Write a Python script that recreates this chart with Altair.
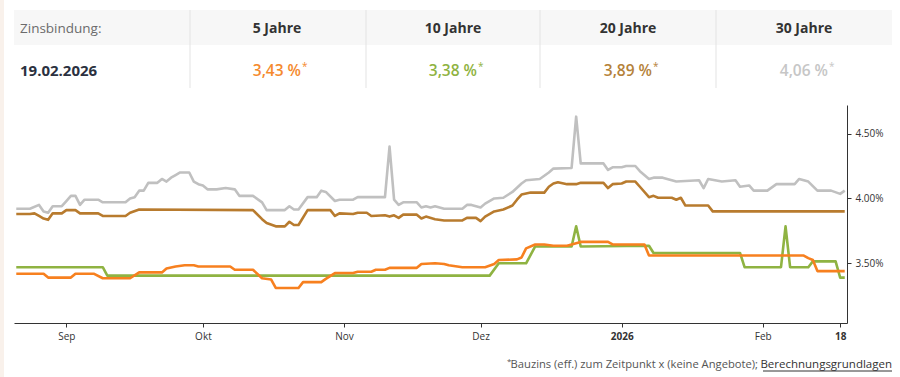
import altair as alt
import pandas as pd

# ---------------- data ----------------
START = pd.Timestamp("2025-08-21")

SERIES = ["5 Jahre", "10 Jahre", "20 Jahre", "30 Jahre"]
CURRENT = [3.43, 3.38, 3.89, 4.06]
AS_OF = "19.02.2026"
HEADER_LABEL = "Zinsbindung:"
FOOTNOTE = "Bauzins (eff.) zum Zeitpunkt x (keine Angebote);"
FOOTNOTE_MARK = "*"
FOOTNOTE_LINK = "Berechnungsgrundlagen"
Y_TICKS = [3.5, 4.0, 4.5]
MONTHS_DE = ["Jan", "Feb", "Mär", "Apr", "Mai", "Jun", "Jul", "Aug", "Sep", "Okt", "Nov", "Dez"]

# (day offset from START, rate in %)
rate_5 = [(0, 3.42), (6, 3.42), (7, 3.39), (12, 3.39), (13, 3.42), (17, 3.42), (19, 3.385),
          (25, 3.385), (27, 3.43), (32, 3.43), (33, 3.46), (35, 3.475), (37, 3.485), (39, 3.485),
          (40, 3.475), (47, 3.475), (48, 3.45), (52, 3.45), (54, 3.385), (56, 3.375), (57, 3.31),
          (62, 3.31), (63, 3.355), (67, 3.355), (68, 3.38), (70, 3.425), (74, 3.425), (75, 3.435),
          (78, 3.435), (79, 3.45), (81, 3.45), (82, 3.465), (88, 3.465), (89, 3.495), (92, 3.50),
          (94, 3.495), (95, 3.485), (98, 3.47), (103, 3.47), (105, 3.495), (106, 3.525), (110, 3.53),
          (111, 3.545), (112, 3.615), (114, 3.645), (116, 3.645), (118, 3.635), (121, 3.635),
          (122, 3.645), (124, 3.665), (130, 3.665), (131, 3.645), (138, 3.645), (139, 3.56),
          (173, 3.56), (174, 3.54), (175, 3.525), (176, 3.44), (182, 3.44)]

rate_10 = [(0, 3.47), (19, 3.47), (20, 3.405), (104, 3.405), (106, 3.50), (112, 3.50), (114, 3.63),
           (122, 3.63), (123, 3.785), (124, 3.63), (139, 3.635), (140, 3.58), (159, 3.58), (160, 3.47),
           (168, 3.47), (169, 3.785), (170, 3.47), (174, 3.47), (175, 3.515), (180, 3.515),
           (181, 3.39), (182, 3.39)]

rate_20 = [(0, 3.88), (3, 3.88), (4, 3.885), (5, 3.865), (6, 3.845), (7, 3.835), (8, 3.885), (10, 3.885),
           (11, 3.91), (13, 3.91), (14, 3.885), (18, 3.885), (19, 3.865), (24, 3.865), (25, 3.89),
           (27, 3.915), (52, 3.91), (54, 3.84), (55, 3.81), (57, 3.785), (59, 3.785), (60, 3.82),
           (61, 3.795), (62, 3.795), (64, 3.91), (69, 3.91), (70, 3.865), (71, 3.885), (74, 3.88),
           (75, 3.89), (77, 3.89), (78, 3.865), (81, 3.87), (82, 3.86), (83, 3.87), (84, 3.85),
           (85, 3.875), (88, 3.875), (89, 3.845), (90, 3.86), (92, 3.84), (94, 3.83), (98, 3.83),
           (99, 3.85), (101, 3.85), (102, 3.825), (103, 3.86), (105, 3.90), (107, 3.915), (109, 3.945),
           (110, 3.99), (111, 4.03), (113, 4.045), (116, 4.045), (117, 4.09), (118, 4.115), (119, 4.125),
           (121, 4.11), (123, 4.11), (124, 4.12), (129, 4.12), (130, 4.08), (131, 4.11), (133, 4.115),
           (134, 4.13), (136, 4.13), (137, 4.09), (139, 4.01), (140, 4.02), (141, 4.005), (144, 4.005),
           (145, 3.99), (146, 4.005), (147, 3.945), (152, 3.945), (153, 3.90), (182, 3.90)]

rate_30 = [(0, 3.92), (3, 3.92), (5, 3.95), (6, 3.90), (7, 3.89), (8, 3.94), (10, 3.94), (11, 3.98),
           (12, 4.02), (13, 4.02), (14, 3.95), (15, 3.99), (18, 3.99), (19, 3.97), (24, 3.97), (25, 4.00),
           (26, 4.01), (27, 4.06), (28, 4.06), (29, 4.12), (31, 4.12), (32, 4.15), (33, 4.13), (34, 4.16),
           (35, 4.18), (36, 4.20), (38, 4.20), (39, 4.13), (40, 4.11), (41, 4.10), (42, 4.07), (44, 4.07),
           (46, 4.08), (48, 4.07), (49, 4.02), (52, 4.02), (54, 3.97), (55, 3.91), (59, 3.91), (60, 3.94),
           (61, 3.915), (62, 3.915), (64, 4.01), (66, 4.01), (67, 4.06), (68, 4.05), (70, 3.98), (71, 3.99),
           (74, 3.99), (75, 4.01), (81, 4.01), (82, 4.40), (83, 3.99), (84, 3.95), (85, 3.97), (88, 3.97),
           (89, 3.93), (90, 3.94), (91, 3.93), (92, 3.94), (94, 3.92), (98, 3.92), (99, 3.95), (100, 3.95),
           (102, 3.93), (103, 3.96), (105, 4.00), (107, 4.005), (109, 4.05), (111, 4.115), (112, 4.14),
           (115, 4.15), (117, 4.20), (118, 4.23), (122, 4.235), (123, 4.63), (124, 4.27), (129, 4.27),
           (130, 4.22), (131, 4.24), (133, 4.24), (134, 4.25), (136, 4.25), (137, 4.21), (139, 4.15),
           (140, 4.16), (142, 4.16), (145, 4.13), (150, 4.14), (151, 4.08), (152, 4.15), (155, 4.13),
           (158, 4.14), (159, 4.09), (161, 4.10), (162, 4.06), (165, 4.06), (167, 4.11), (171, 4.11),
           (172, 4.15), (174, 4.13), (176, 4.06), (179, 4.06), (181, 4.035), (182, 4.06)]

RATES = [rate_5, rate_10, rate_20, rate_30]

# ---------------- styles / layout ----------------
LINE_COLORS = ["#f7801f", "#8fb342", "#b87b2e", "#c0c0c0"]
VALUE_COLORS = ["#f58a2e", "#8fb342", "#b5823a", "#c6c6c6"]
FONT = "Open Sans"
OX, OY = 14, 105          # plot origin in page pixels
PLOT_W, PLOT_H = 833, 218
COL_CENTERS = [277, 453, 628, 804]
COL_SEPARATORS = [190, 366, 540, 716]


def frame(pairs):
    return pd.DataFrame({
        "date": [START + pd.Timedelta(days=d) for d, _ in pairs],
        "value": [v for _, v in pairs],
    })


x_scale = alt.Scale(domain=[alt.DateTime(year=2025, month=8, date=20, hours=12),
                            alt.DateTime(year=2026, month=2, date=19, hours=12)])
y_scale = alt.Scale(domain=[3.04, 4.72], nice=False, zero=False)

month_arr = "[" + ",".join("'%s'" % m for m in MONTHS_DE) + "]"
x_label_expr = ("date(datum.value) == 18 ? '18' : (month(datum.value) == 0 ? timeFormat(datum.value, '%Y') : "
                + month_arr + "[month(datum.value)])")
bold_test = "month(datum.value) == 0 || date(datum.value) == 18"

x_axis = alt.Axis(
    title=None, grid=False,
    values=[alt.DateTime(year=2025, month=9, date=1), alt.DateTime(year=2025, month=10, date=1),
            alt.DateTime(year=2025, month=11, date=1), alt.DateTime(year=2025, month=12, date=1),
            alt.DateTime(year=2026, month=1, date=1), alt.DateTime(year=2026, month=2, date=1),
            alt.DateTime(year=2026, month=2, date=18)],
    labelExpr=x_label_expr,
    labelFontWeight={"condition": {"test": bold_test, "value": "bold"}, "value": "normal"},
    labelFont=FONT, labelFontSize=10, labelColor="#333333", labelPadding=4,
    domainColor="#333333", tickColor="#333333", tickSize=4, labelAngle=0,
)
y_axis = alt.Axis(
    title=None, grid=False, orient="right", values=Y_TICKS,
    labelExpr="format(datum.value, '.2f') + '%'",
    labelFont=FONT, labelFontSize=10, labelColor="#333333", labelPadding=4,
    domainColor="#333333", tickColor="#333333", tickSize=4,
)

layers = []

# page decoration
layers.append(alt.Chart(pd.DataFrame({"a": [0]})).mark_rect(color="#f9f1eb").encode(
    x=alt.value(-OX), x2=alt.value(4 - OX), y=alt.value(-OY), y2=alt.value(377 - OY)))
# header background
layers.append(alt.Chart(pd.DataFrame({"a": [0]})).mark_rect(color="#f7f7f7").encode(
    x=alt.value(14 - OX), x2=alt.value(892 - OX), y=alt.value(10 - OY), y2=alt.value(45 - OY)))
for sx in COL_SEPARATORS:
    layers.append(alt.Chart(pd.DataFrame({"a": [0]})).mark_rule(color="#e3e3e3", strokeWidth=1).encode(
        x=alt.value(sx - OX), y=alt.value(10 - OY), y2=alt.value(88 - OY)))

# lines (gray, brown, green, orange drawing order)
for idx in [3, 2, 1, 0]:
    layers.append(alt.Chart(frame(RATES[idx])).mark_line(
        color=LINE_COLORS[idx], strokeWidth=2.6, strokeJoin="round", strokeCap="butt"
    ).encode(
        x=alt.X("date:T", scale=x_scale, axis=x_axis),
        y=alt.Y("value:Q", scale=y_scale, axis=y_axis),
    ))


def text_layer(txt, x, y, size, color, weight="normal", align="center"):
    return alt.Chart(pd.DataFrame({"t": [txt]})).mark_text(
        align=align, baseline="middle", font=FONT, fontSize=size, fontWeight=weight, color=color
    ).encode(x=alt.value(x - OX), y=alt.value(y - OY), text="t:N")


layers.append(text_layer(HEADER_LABEL, 20, 29, 13.5, "#6b6b6b", align="left"))
layers.append(text_layer(AS_OF, 20, 71, 15, "#2b3140", weight="bold", align="left"))
for name, val, col, cx in zip(SERIES, CURRENT, VALUE_COLORS, COL_CENTERS):
    layers.append(text_layer(name, cx, 29, 14, "#333333", weight="bold"))
    layers.append(text_layer(("%.2f" % val).replace(".", ",") + " %", cx + 24, 71, 15.5, col,
                             weight=600, align="right"))
    layers.append(text_layer("*", cx + 25, 67, 10, col, align="left"))

# footnote
layers.append(text_layer(FOOTNOTE_LINK, 892, 365, 11.5, "#333333", align="right"))
layers.append(text_layer(FOOTNOTE, 758, 365, 11.2, "#555555", align="right"))
layers.append(text_layer(FOOTNOTE_MARK, 507, 362, 8, "#555555", align="left"))
layers.append(alt.Chart(pd.DataFrame({"a": [0]})).mark_rule(color="#333333", strokeWidth=1).encode(
    x=alt.value(763 - OX), x2=alt.value(892 - OX), y=alt.value(371 - OY)))

chart = alt.layer(*layers).properties(
    width=PLOT_W, height=PLOT_H,
    autosize=alt.AutoSizeParams(type="none"),
    padding={"left": OX, "top": OY, "right": 900 - OX - PLOT_W, "bottom": 377 - OY - PLOT_H},
    background="white",
).configure_view(stroke=None)

chart.save("out.html", embed_options={"renderer": "svg", "actions": False})
